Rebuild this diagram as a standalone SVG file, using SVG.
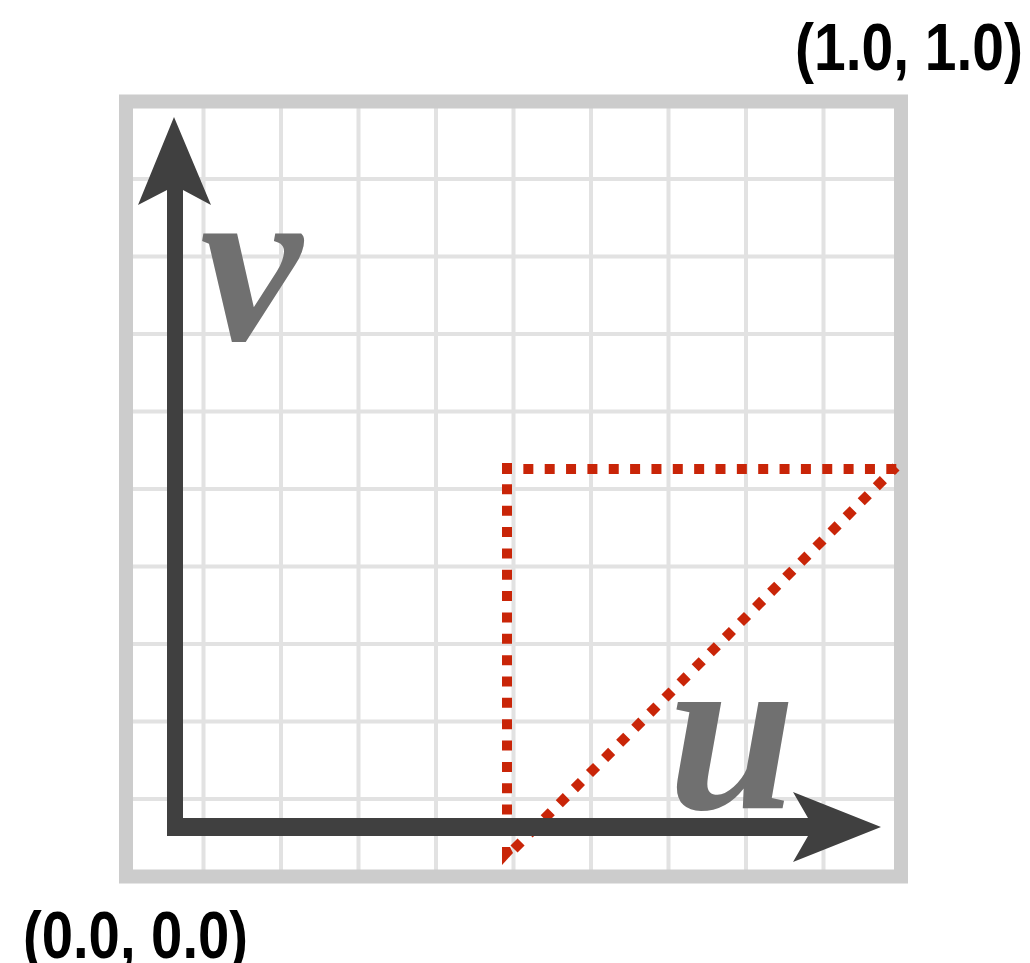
<svg xmlns="http://www.w3.org/2000/svg" width="1030" height="963" viewBox="0 0 1030 963">
<style>
.grid{stroke:#e2e2e2;stroke-width:4;fill:none}
.border{stroke:#cccccc;stroke-width:14;fill:none}
.axis{fill:#404040}
.red{stroke:#c92508;stroke-width:10;fill:none;stroke-dasharray:10 11.35}
.var{font-family:"Liberation Serif",serif;font-weight:bold;font-style:italic;font-size:230px;fill:#707070}
.coord{font-family:"Liberation Sans",sans-serif;font-weight:bold;font-size:67px;fill:#000}
</style>
<rect width="1030" height="963" fill="#fff"/>
<g id="grid">
<path class="grid" d="M203.5 108V870M281 108V870M358.5 108V870M436 108V870M513.5 108V870M591 108V870M668.5 108V870M746 108V870M823.5 108V870M133 179H895M133 256.5H895M133 334H895M133 411.5H895M133 489H895M133 566.5H895M133 644H895M133 721.5H895M133 799H895"/>
<rect class="border" x="126" y="101.5" width="775" height="775"/>
</g>
<g id="connectors">
<line class="red" x1="502" y1="469" x2="898" y2="469"/>
<line class="red" x1="507" y1="463" x2="507" y2="838"/>
<line class="red" x1="514" y1="849" x2="896" y2="467"/>
<polygon points="502,847 510,847 513,853 502,865" fill="#c92508"/>
</g>
<g id="v-axis">
<path class="axis" d="M174 117L211 205L183 190V836H167V190L138 205Z"/>
</g>
<g id="u-axis">
<path class="axis" d="M881 827L793 862L808 836H167V818H808L793 792Z"/>
</g>
<g id="label-v"><text class="var" x="200" y="340">v</text></g>
<g id="label-u"><text class="var" x="668" y="808">u</text></g>
<g id="label-origin"><text class="coord" x="23" y="958" textLength="225" lengthAdjust="spacingAndGlyphs">(0.0, 0.0)</text></g>
<g id="label-one"><text class="coord" x="795" y="70" textLength="228" lengthAdjust="spacingAndGlyphs">(1.0, 1.0)</text></g>
</svg>
